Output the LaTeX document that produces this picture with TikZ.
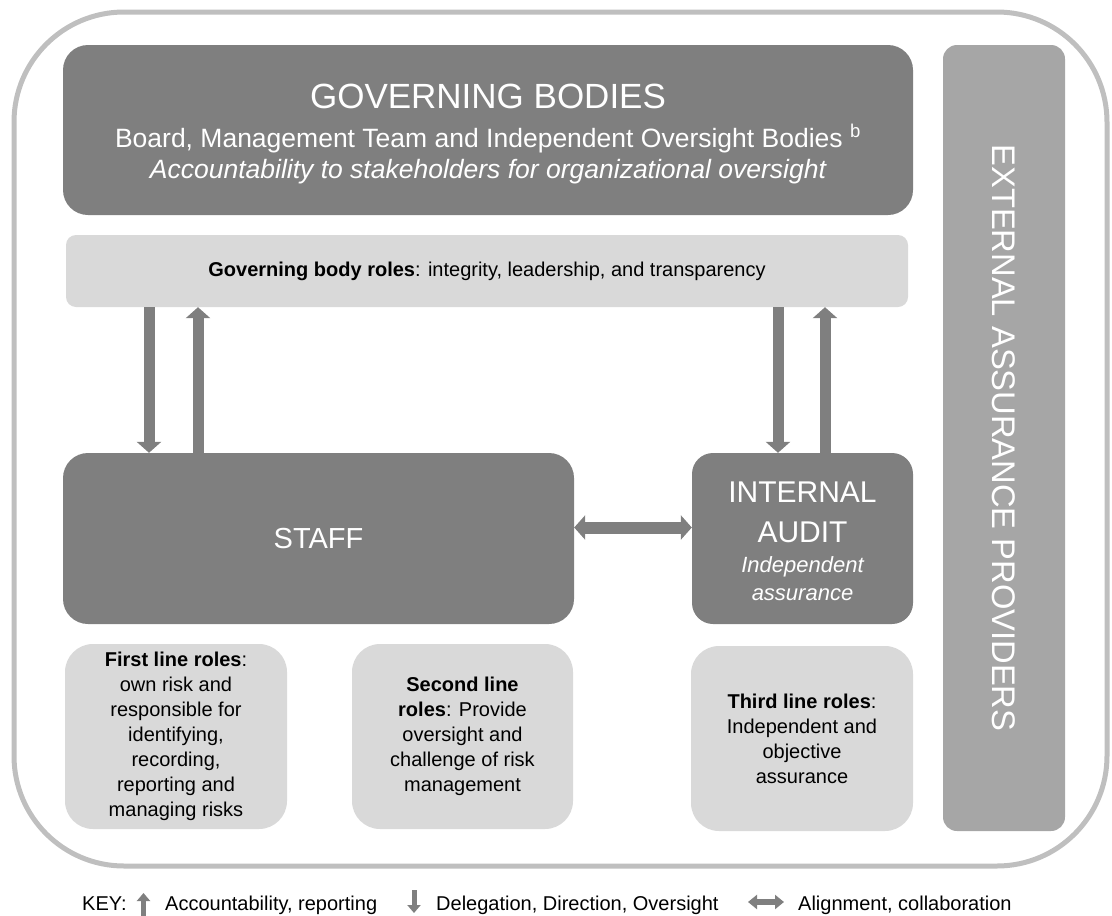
\documentclass[tikz,border=0pt]{standalone}
\usepackage{fontspec}
\setmainfont{Liberation Sans}
\usetikzlibrary{arrows.meta}
\definecolor{darkbox}{HTML}{7F7F7F}
\definecolor{lightbox}{HTML}{D9D9D9}
\definecolor{extbox}{HTML}{A6A6A6}
\definecolor{framegray}{HTML}{BFBFBF}
\newcommand{\fs}[1]{\fontsize{#1}{1.2\dimexpr #1pt\relax}\selectfont}
\tikzset{
  darkblock/.style={fill=darkbox, text=white, rounded corners=25pt, inner sep=0pt},
  lightblock/.style={fill=lightbox, text=black, rounded corners=28pt, inner sep=0pt,
    align=center, font=\fontsize{20}{25}\selectfont},
  whitetext/.style={text=white, inner sep=0pt, anchor=base},
  bigarrow/.style={draw=darkbox, line width=11pt, -{Triangle[width=24pt,length=11pt]}},
  bigboth/.style={draw=darkbox, line width=12pt, {Triangle[width=24pt,length=11pt]}-{Triangle[width=24pt,length=11pt]}},
  keytext/.style={anchor=base west, inner sep=0pt, font=\fontsize{20}{24}\selectfont},
  keyarrow/.style={draw=darkbox, line width=5pt, -{Triangle[width=13pt,length=8pt]}},
  keyboth/.style={draw=darkbox, line width=6pt, {Triangle[width=14pt,length=9pt]}-{Triangle[width=14pt,length=9pt]}}
}

\begin{document}
\begin{tikzpicture}[x=1pt,y=-1pt]
\useasboundingbox (0,0) rectangle (1112,916);
% outer frame
\draw[framegray, line width=5pt, rounded corners=110pt] (14,12) rectangle (1107,866);

% governing bodies
\node[darkblock, minimum width=850pt, minimum height=170pt] (gov) at (488,130) {};
\node[whitetext, font=\fs{35}] (govtitle) at (488,108) {GOVERNING BODIES};
\node[whitetext, font=\fs{26.5}] (govsub) at (488,147) {Board, Management Team and Independent Oversight Bodies \textsuperscript{b}};
\node[whitetext, font=\fs{26.5}\itshape] (govnote) at (488,178) {Accountability to stakeholders for organizational oversight};

\node[fill=lightbox, rounded corners=10pt, minimum width=842pt, minimum height=72pt, font=\fs{20}] (roles) at (487,271)
  {\textbf{Governing body roles}: integrity, leadership, and transparency};

% external assurance
\node[fill=extbox, text=white, rounded corners=14pt, rotate=-90, minimum width=786pt, minimum height=122pt, font=\fs{32.7}] (ext) at (1004,438)
  {EXTERNAL ASSURANCE PROVIDERS};

% staff and internal audit
\node[darkblock, minimum width=511pt, minimum height=171pt, font=\fs{29}] (staff) at (318.5,538.5) {STAFF};
\node[darkblock, rounded corners=21pt, minimum width=221pt, minimum height=171pt] (ia) at (802.5,538.5) {};
\node[whitetext, font=\fs{30}] (iatitle) at (802.5,502) {INTERNAL};
\node[whitetext, font=\fs{30}] (iatitleb) at (802.5,542) {AUDIT};
\node[whitetext, font=\fs{22}\itshape] (ianote) at (802.5,572) {Independent};
\node[whitetext, font=\fs{22}\itshape] (ianoteb) at (802.5,600) {assurance};

% arrows
\coordinate (xa) at (149,0);
\coordinate (xb) at (198,0);
\coordinate (xc) at (778,0);
\coordinate (xd) at (825,0);
\draw[bigarrow] (xa |- roles.south) -- (xa |- staff.north);
\draw[bigarrow] (xb |- staff.north) -- (xb |- roles.south);
\draw[bigarrow] (xc |- roles.south) -- (xc |- ia.north);
\draw[bigarrow] (xd |- ia.north) -- (xd |- roles.south);
\draw[bigboth] ([yshift=11pt]staff.east) -- ([yshift=11pt]ia.west);

% line roles
\node[lightblock, minimum width=222pt, minimum height=185pt] (first) at (176,736.5)
  {\textbf{First line roles}:\\own risk and\\responsible for\\identifying,\\recording,\\reporting and\\managing risks};
\node[lightblock, minimum width=221pt, minimum height=185pt] (second) at (462.5,736.5)
  {\textbf{Second line}\\\textbf{roles}: Provide\\oversight and\\challenge of risk\\management};
\node[lightblock, minimum width=222pt, minimum height=185pt] (third) at (802,738.5)
  {\textbf{Third line roles}:\\Independent and\\objective\\assurance};

% key
\node[keytext] (key) at (82,910) {KEY:};
\draw[keyarrow] (143.5,916) -- (143.5,893);
\node[keytext] (keyup) at (165,910) {Accountability, reporting};
\draw[keyarrow] (414,890) -- (414,913);
\node[keytext] (keydown) at (436,910) {Delegation, Direction, Oversight};
\draw[keyboth] (748,902) -- (784,902);
\node[keytext] (keyboth) at (798,910) {Alignment, collaboration};
\end{tikzpicture}
\end{document}
